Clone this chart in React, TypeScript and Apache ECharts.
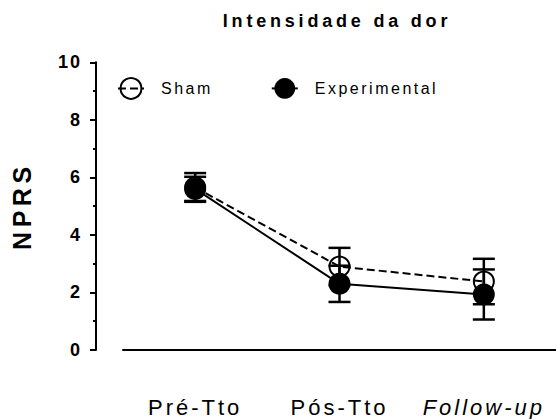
import React, { useEffect, useRef } from "react";
import * as echarts from "echarts";

// Time points and NPRS pain scores (mean ± SEM) for each group
const categories = ["Pré-Tto", "Pós-Tto", "Follow-up"];
const shamMean = [5.65, 2.9, 2.38];
const shamSem = [0.5, 0.65, 0.79];
const expMean = [5.6, 2.3, 1.93];
const expSem = [0.42, 0.63, 0.87];
const yTicks = [0, 2, 4, 6, 8, 10];

const FONT = "'Liberation Sans', Arial, Helvetica, sans-serif";

// Letter spacing applied to the rendered SVG text nodes
const spacingFor = (s: string): string | null => {
  if (s === "Intensidade da dor") return "3.8px";
  if (s === "Sham" || s === "Experimental") return "2.5px";
  if (categories.includes(s)) return "3px";
  if (s === "NPRS") return "4.5px";
  if (/^\d+$/.test(s)) return "2px";
  return null;
};

const errorData = (mean: number[], sem: number[]) =>
  mean.map((m, i) => [i, m - sem[i], m + sem[i]]);

const errorSeries = (name: string, mean: number[], sem: number[]) => ({
  name,
  type: "custom",
  data: errorData(mean, sem),
  encode: { x: 0, y: [1, 2] },
  silent: true,
  renderItem: (_params: any, api: any) => {
    const x = api.value(0);
    const lo = api.coord([x, api.value(1)]);
    const hi = api.coord([x, api.value(2)]);
    const half = 11;
    const style = { stroke: "#000", lineWidth: 2.5, fill: "none" };
    return {
      type: "group",
      children: [
        { type: "line", shape: { x1: hi[0], y1: hi[1], x2: lo[0], y2: lo[1] }, style },
        { type: "line", shape: { x1: hi[0] - half, y1: hi[1], x2: hi[0] + half, y2: hi[1] }, style },
        { type: "line", shape: { x1: lo[0] - half, y1: lo[1], x2: lo[0] + half, y2: lo[1] }, style },
      ],
    };
  },
});

export default function App() {
  const ref = useRef<HTMLDivElement>(null);

  useEffect(() => {
    if (!ref.current) return;
    const el = ref.current;
    const chart = echarts.init(el, null, { renderer: "svg" });

    const option: any = {
      animation: false,
      backgroundColor: "#fff",
      textStyle: { fontFamily: FONT, color: "#000" },
      title: {
        text: "Intensidade da dor",
        left: 332,
        top: 7,
        textAlign: "center",
        textStyle: { fontFamily: FONT, fontSize: 18, fontWeight: "bold", color: "#000" },
      },
      legend: {
        data: ["Sham", "Experimental"],
        left: 112,
        top: 72,
        itemWidth: 26,
        itemHeight: 26,
        itemGap: 68,
        selectedMode: false,
        textStyle: { fontFamily: FONT, fontSize: 16, color: "#000", padding: [0, 0, 0, 12] },
      },
      grid: { left: 123, right: -11, top: 62.3, bottom: 69 },
      xAxis: {
        type: "category",
        data: categories.map((c) =>
          c === "Follow-up" ? { value: c, textStyle: { fontStyle: "italic" } } : c
        ),
        offset: 27,
        axisLine: { lineStyle: { color: "#000", width: 2 } },
        axisTick: { alignWithLabel: true, length: 6, lineStyle: { color: "#000", width: 2 } },
        axisLabel: { fontFamily: FONT, fontSize: 22, color: "#000", margin: 19 },
        splitLine: { show: false },
      },
      yAxis: {
        type: "value",
        min: 0,
        max: 10,
        interval: 2,
        offset: 27,
        name: "NPRS",
        nameLocation: "middle",
        nameRotate: 90,
        nameGap: 62,
        nameTextStyle: { fontFamily: FONT, fontSize: 25, fontWeight: "bold", color: "#000" },
        axisLine: { show: true, lineStyle: { color: "#000", width: 2 } },
        axisTick: { show: true, length: 6, lineStyle: { color: "#000", width: 2 } },
        minorTick: { show: true, splitNumber: 2, length: 3, lineStyle: { color: "#000", width: 2 } },
        axisLabel: {
          fontFamily: FONT,
          fontSize: 18,
          fontWeight: "bold",
          color: "#000",
          margin: 14,
          formatter: (v: number) => (yTicks.includes(v) ? String(v) : ""),
        },
        splitLine: { show: false },
      },
      series: [
        {
          name: "Sham",
          type: "line",
          data: shamMean,
          symbol: "circle",
          symbolSize: 20,
          lineStyle: { color: "#000", width: 2, type: [8, 4] },
          itemStyle: { color: "rgba(255,255,255,0)", borderColor: "#000", borderWidth: 2 },
          silent: true,
          z: 2,
        },
        { ...errorSeries("Sham SEM", shamMean, shamSem), z: 3 },
        {
          name: "Experimental",
          type: "line",
          data: expMean,
          symbol: "circle",
          symbolSize: 22,
          lineStyle: { color: "#000", width: 2 },
          itemStyle: { color: "#000", borderColor: "#000", borderWidth: 0 },
          silent: true,
          z: 4,
        },
        { ...errorSeries("Experimental SEM", expMean, expSem), z: 5 },
      ],
    };

    const applySpacing = () => {
      el.querySelectorAll("text").forEach((t) => {
        const sp = spacingFor((t.textContent || "").trim());
        if (sp) (t as SVGTextElement).style.letterSpacing = sp;
      });
    };

    chart.on("finished", applySpacing);
    chart.setOption(option);
    chart.getZr().refreshImmediately();
    applySpacing();
    const raf = requestAnimationFrame(applySpacing);

    return () => {
      cancelAnimationFrame(raf);
      chart.dispose();
    };
  }, []);

  return (
    <div
      ref={ref}
      style={{ position: "absolute", left: 0, top: 0, width: 556, height: 419 }}
    />
  );
}
